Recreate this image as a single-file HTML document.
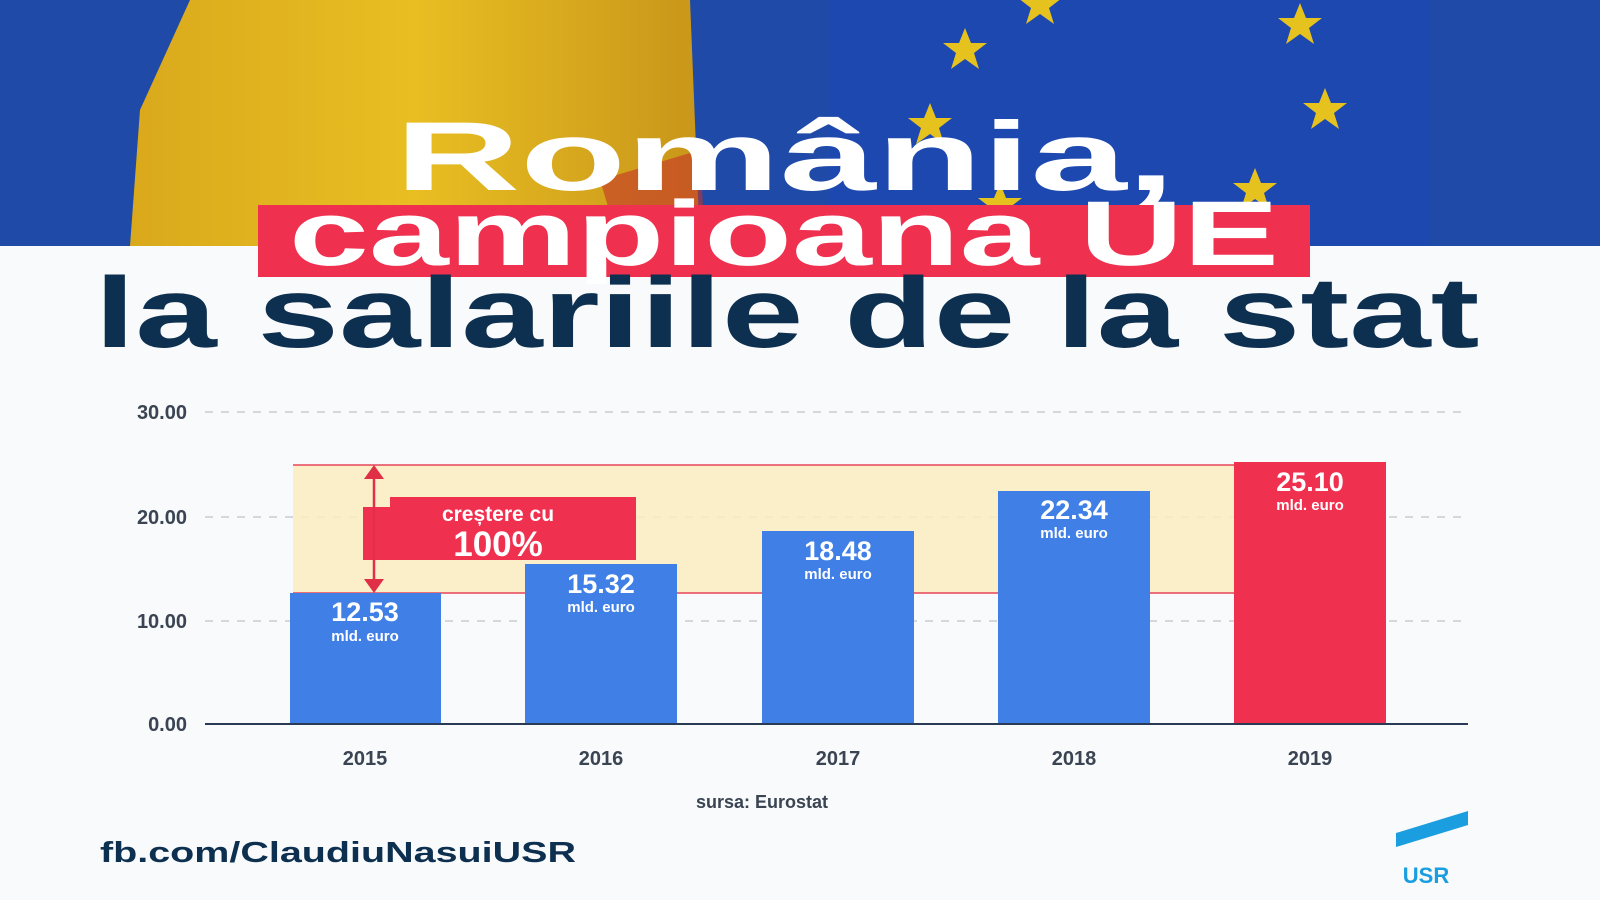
<!DOCTYPE html>
<html><head><meta charset="utf-8"><style>
html,body{margin:0;padding:0;background:#fff}
svg{display:block}
text{font-family:"Liberation Sans",sans-serif;font-weight:bold}
</style></head><body>
<svg width="1600" height="900" viewBox="0 0 1600 900" xmlns="http://www.w3.org/2000/svg">
<defs>
<linearGradient id="yel" x1="0" x2="1"><stop offset="0" stop-color="#d9a91c"/><stop offset="0.5" stop-color="#e8be22"/><stop offset="1" stop-color="#c9961a"/></linearGradient>
<g id="star"><polygon points="0,-22 6,-7 22,-7 9,3 14,19 0,9 -14,19 -9,3 -22,-7 -6,-7" fill="#e6c21f"/></g>
</defs>
<rect x="0" y="0" width="1600" height="246" fill="#1f4aa8"/>
<rect x="830" y="0" width="600" height="246" fill="#1d48b0"/>
<polygon points="190,0 690,0 700,246 130,246 140,110" fill="url(#yel)"/>
<polygon points="600,180 700,150 705,246 620,246" fill="#c5332a" opacity="0.6"/>
<use href="#star" x="1040" y="5"/>
<use href="#star" x="1300" y="25"/>
<use href="#star" x="965" y="50"/>
<use href="#star" x="1325" y="110"/>
<use href="#star" x="930" y="125"/>
<use href="#star" x="1255" y="190"/>
<use href="#star" x="1000" y="205"/>
<rect x="0" y="246" width="1600" height="654" fill="#f9fafb"/>
<text x="785" y="190" font-size="98" fill="#fff" text-anchor="middle" textLength="780" lengthAdjust="spacingAndGlyphs">România,</text>
<rect x="258" y="205" width="1052" height="72" fill="#f0304f"/>
<text x="784" y="265" font-size="92" fill="#fff" text-anchor="middle" textLength="990" lengthAdjust="spacingAndGlyphs">campioana UE</text>
<text x="787" y="347" font-size="100" fill="#0e3050" text-anchor="middle" textLength="1385" lengthAdjust="spacingAndGlyphs">la salariile de la stat</text>
<g stroke="#c8ccd4" stroke-width="1.5" stroke-dasharray="8,8">
<line x1="205" y1="412" x2="1468" y2="412"/>
<line x1="205" y1="517" x2="1468" y2="517"/>
<line x1="205" y1="621" x2="1468" y2="621"/>
</g>
<g font-size="20" fill="#3a4452" text-anchor="end">
<text x="187" y="419">30.00</text><text x="187" y="524">20.00</text><text x="187" y="628">10.00</text><text x="187" y="731">0.00</text>
</g>
<rect x="293" y="465" width="1092" height="128" fill="#faecc0" opacity="0.85"/>
<line x1="293" y1="465" x2="1385" y2="465" stroke="#e8455a" stroke-width="1.5"/>
<line x1="293" y1="593" x2="1385" y2="593" stroke="#e8455a" stroke-width="1.5"/>
<g fill="#3f7fe6">
<rect x="290" y="593" width="151" height="131"/>
<rect x="525" y="564" width="152" height="160"/>
<rect x="762" y="531" width="152" height="193"/>
<rect x="998" y="491" width="152" height="233"/>
</g>
<rect x="1234" y="462" width="152" height="262" fill="#f0304f"/>
<line x1="205" y1="724" x2="1468" y2="724" stroke="#2a3a55" stroke-width="2"/>
<g fill="#fff" text-anchor="middle">
<text x="365" y="621" font-size="27">12.53</text><text x="365" y="641" font-size="15">mld. euro</text>
<text x="601" y="593" font-size="27">15.32</text><text x="601" y="612" font-size="15">mld. euro</text>
<text x="838" y="560" font-size="27">18.48</text><text x="838" y="579" font-size="15">mld. euro</text>
<text x="1074" y="519" font-size="27">22.34</text><text x="1074" y="538" font-size="15">mld. euro</text>
<text x="1310" y="491" font-size="27">25.10</text><text x="1310" y="510" font-size="15">mld. euro</text>
</g>
<rect x="363" y="507" width="273" height="53" fill="#f0304f"/>
<rect x="390" y="497" width="246" height="20" fill="#f0304f"/>
<text x="498" y="521" font-size="21" fill="#fff" text-anchor="middle">creștere cu</text>
<text x="498" y="556" font-size="35" fill="#fff" text-anchor="middle">100%</text>
<line x1="374" y1="472" x2="374" y2="586" stroke="#e03048" stroke-width="2.5"/>
<polygon points="374,465 364,479 384,479" fill="#e03048"/>
<polygon points="374,593 364,579 384,579" fill="#e03048"/>
<g font-size="20" fill="#3a4452" text-anchor="middle">
<text x="365" y="765">2015</text><text x="601" y="765">2016</text><text x="838" y="765">2017</text><text x="1074" y="765">2018</text><text x="1310" y="765">2019</text>
</g>
<text x="762" y="808" font-size="18" fill="#3a4452" text-anchor="middle">sursa: Eurostat</text>
<text x="100" y="862" font-size="29" fill="#0e3050" textLength="476" lengthAdjust="spacingAndGlyphs">fb.com/ClaudiuNasuiUSR</text>
<polygon points="1396,833 1468,811 1468,825 1396,847" fill="#1a9ee0"/>
<text x="1426" y="883" font-size="22" fill="#1a9ee0" text-anchor="middle">USR</text>
</svg>
</body></html>
